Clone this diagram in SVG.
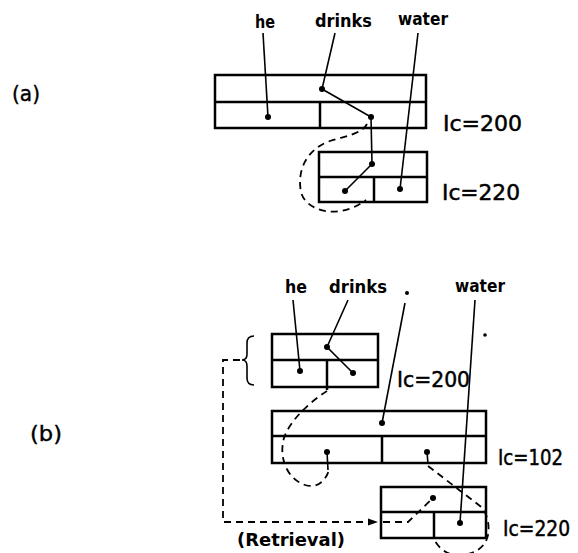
<svg xmlns="http://www.w3.org/2000/svg" width="578" height="553" viewBox="0 0 578 553">
<style>
.box{fill:none;stroke:#000;stroke-width:2.5}
.ln{fill:none;stroke:#000;stroke-width:1.6}
.ds{fill:none;stroke:#000;stroke-width:1.8;stroke-dasharray:7 5}
.dot{fill:#000}
.w{font-family:"DejaVu Sans",sans-serif;font-weight:bold;font-size:17px;fill:#000}
.ic{font-family:"DejaVu Sans",sans-serif;font-size:21px;fill:#000;stroke:#000;stroke-width:0.5}
.lb{font-family:"DejaVu Sans",sans-serif;font-size:22px;fill:#000;stroke:#000;stroke-width:0.4}
.rt{font-family:"DejaVu Sans",sans-serif;font-weight:bold;font-size:18px;fill:#000}
</style>
<defs>
<marker id="ah" markerWidth="10" markerHeight="8" refX="9" refY="4" orient="auto" markerUnits="userSpaceOnUse">
<path d="M0,0.5 L10,4 L0,7.5 Z" fill="#000"/>
</marker>
</defs>

<g id="label-a"><text class="lb" x="12" y="101" textLength="28" lengthAdjust="spacingAndGlyphs">(a)</text></g>
<g id="label-b"><text class="lb" x="30" y="441" textLength="32" lengthAdjust="spacingAndGlyphs">(b)</text></g>

<!-- Part (a) -->
<g id="a-words">
<text class="w" x="255" y="28" textLength="20" lengthAdjust="spacingAndGlyphs">he</text>
<text class="w" x="315" y="27" textLength="57" lengthAdjust="spacingAndGlyphs">drinks</text>
<text class="w" x="398" y="25" textLength="50" lengthAdjust="spacingAndGlyphs">water</text>
</g>
<g id="a-node-200">
<rect class="box" x="215" y="75" width="211" height="53"/>
<line class="box" x1="215" y1="102" x2="426" y2="102"/>
<line class="box" x1="320" y1="102" x2="320" y2="128"/>
<text class="ic" x="443" y="131" textLength="79" lengthAdjust="spacingAndGlyphs">Ic=200</text>
</g>
<g id="a-node-220">
<rect class="box" x="319" y="152" width="108" height="50"/>
<line class="box" x1="319" y1="177" x2="427" y2="177"/>
<line class="box" x1="374" y1="177" x2="374" y2="202"/>
<text class="ic" x="442" y="200" textLength="78" lengthAdjust="spacingAndGlyphs">Ic=220</text>
</g>

<!-- Part (b) -->
<g id="b-words">
<text class="w" x="285" y="293" textLength="22" lengthAdjust="spacingAndGlyphs">he</text>
<text class="w" x="329" y="293" textLength="58" lengthAdjust="spacingAndGlyphs">drinks</text>
<text class="w" x="455" y="292" textLength="50" lengthAdjust="spacingAndGlyphs">water</text>
</g>
<g id="b-node-200">
<rect class="box" x="272" y="334" width="106" height="53"/>
<line class="box" x1="272" y1="360" x2="378" y2="360"/>
<line class="box" x1="327" y1="360" x2="327" y2="390"/>
<path class="ln" stroke-width="2.2" d="M254,336 Q247,336 247,343 L247,354 Q247,360 242,360 Q247,360 247,366 L247,378 Q247,385 254,385"/>
<text class="ic" x="397" y="387" textLength="73" lengthAdjust="spacingAndGlyphs">Ic=200</text>
</g>
<g id="b-node-102">
<rect class="box" x="272" y="411" width="214" height="52"/>
<line class="box" x1="272" y1="436" x2="486" y2="436"/>
<line class="box" x1="382" y1="436" x2="382" y2="463"/>
<text class="ic" x="498" y="465" textLength="65" lengthAdjust="spacingAndGlyphs">Ic=102</text>
</g>
<g id="b-node-220">
<rect class="box" x="381" y="487" width="105" height="51"/>
<line class="box" x1="381" y1="512" x2="486" y2="512"/>
<line class="box" x1="434" y1="512" x2="434" y2="538"/>
<text class="ic" x="503" y="536" textLength="67" lengthAdjust="spacingAndGlyphs">Ic=220</text>
</g>
<g id="retrieval-label"><text class="rt" x="237" y="546" textLength="108" lengthAdjust="spacingAndGlyphs">(Retrieval)</text></g>

<g id="connectors">
<!-- (a) -->
<polyline class="ln" points="263,33 268,117"/>
<polyline class="ln" points="335,33 322,89 371,117 372,164 345,191"/>
<polyline class="ln" points="418,33 400,189"/>
<path class="ds" d="M367,124 C362,134 345,136 330,141 C305,150 297,172 301,192 C306,212 340,220 366,200"/>
<!-- (b) -->
<polyline class="ln" points="293,300 300,371"/>
<polyline class="ln" points="348,300 327,347 353,373"/>
<circle class="dot" cx="407" cy="293" r="2"/>
<polyline class="ln" points="405,303 382,423"/>
<polyline class="ln" points="475,300 460,523"/>
<circle class="dot" cx="485" cy="335" r="1.8"/>
<line class="ln" x1="327" y1="452" x2="328" y2="470"/>
<line class="ln" x1="427" y1="452" x2="428" y2="464"/>
<path class="ds" d="M327,391 C310,402 290,420 284,438 C279,455 285,478 305,485 C318,489 326,480 329,470"/>
<path class="ds" d="M428,466 L480,506 C487,512 490,525 488,535 C485,550 470,556 455,555 C445,554 437,546 434,539"/>
<path class="ds" d="M240,360 L223,360 L223,522 L377,522" marker-end="url(#ah)"/>
<path class="ds" d="M383,522 L408,522 L433,498"/>
<!-- dots -->
<circle class="dot" cx="268" cy="117" r="3"/>
<circle class="dot" cx="322" cy="89" r="3"/>
<circle class="dot" cx="371" cy="117" r="3"/>
<circle class="dot" cx="372" cy="164" r="3"/>
<circle class="dot" cx="345" cy="191" r="3"/>
<circle class="dot" cx="400" cy="189" r="3"/>
<circle class="dot" cx="300" cy="371" r="3"/>
<circle class="dot" cx="327" cy="347" r="3"/>
<circle class="dot" cx="353" cy="373" r="3"/>
<circle class="dot" cx="382" cy="423" r="3"/>
<circle class="dot" cx="327" cy="452" r="3"/>
<circle class="dot" cx="427" cy="452" r="3"/>
<circle class="dot" cx="433" cy="498" r="3"/>
<circle class="dot" cx="460" cy="523" r="3"/>
</g>
</svg>
